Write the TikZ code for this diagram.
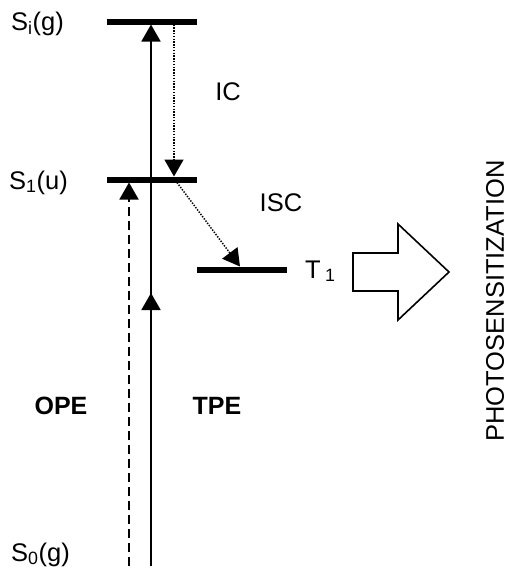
\documentclass[tikz,border=0pt]{standalone}
\usepackage{fontspec}
\setmainfont{Liberation Sans}
\usetikzlibrary{arrows.meta}
\begin{document}
\begin{tikzpicture}[x=1pt,y=-1pt,
  lvl/.style={fill=black,inner sep=0pt,minimum width=90pt,minimum height=6pt},
  lbl/.style={inner sep=0pt,font=\fontsize{25.5}{30}\selectfont},
  blbl/.style={inner sep=0pt,font=\fontsize{25}{30}\selectfont\bfseries},
  tri/.style={-{Triangle[length=17pt,width=19pt]}},
  solidline/.style={line width=1.8pt},
  dashline/.style={line width=1.8pt,dash pattern=on 9pt off 5pt},
  dotline/.style={line width=1.5pt,dash pattern=on 1.4pt off 1.4pt}]
\useasboundingbox (0,0) rectangle (513,568);
% levels
\node[lvl] (si) at (152,21.5) {};
\node[lvl] (s1) at (152,179.5) {};
\node[lvl] (t1) at (242,269.5) {};
% coordinates
\coordinate (solidbot) at (151,566);
\coordinate (solidmid) at (151,293);
\coordinate (solidtop) at (151,24.5);
\coordinate (dashbot) at (129,566);
\coordinate (dashtop) at (129,182.5);
\coordinate (icstart) at (174,24.5);
\coordinate (icend) at (174,176.5);
\coordinate (iscstart) at (177,182.5);
\coordinate (iscend) at (240,266.5);
% connectors
\draw[solidline,tri] (solidbot) -- (solidtop);
\draw[solidline,tri] (solidbot) -- (solidmid);
\draw[dashline,tri] (dashbot) -- (dashtop);
\draw[dotline,tri] (icstart) -- (icend);
\draw[dotline,tri] (iscstart) -- (iscend);
% labels
\node[lbl,anchor=base west] (lsi) at (11,30) {S\textsubscript{i}(g)};
\node[lbl,anchor=base west] (ls1) at (9,189) {S\textsubscript{1}(u)};
\node[lbl,anchor=base west] (ls0) at (11,561) {S\textsubscript{0}(g)};
\node[lbl,anchor=base west] (lt1) at (305,278) {T\,\textsubscript{1}};
\node[lbl] (lic) at (228,92) {IC};
\node[lbl] (lisc) at (281,203) {ISC};
\node[blbl] (lope) at (61,406) {OPE};
\node[blbl] (ltpe) at (217,406) {TPE};
\node[lbl,rotate=90] (lphoto) at (495,301) {PHOTOSENSITIZATION};
% big arrow
\draw[line width=1.6pt,line join=miter] (353,253) -- (398,253) -- (398,224) -- (449,272) -- (398,320) -- (398,291) -- (353,291) -- cycle;
\end{tikzpicture}
\end{document}
